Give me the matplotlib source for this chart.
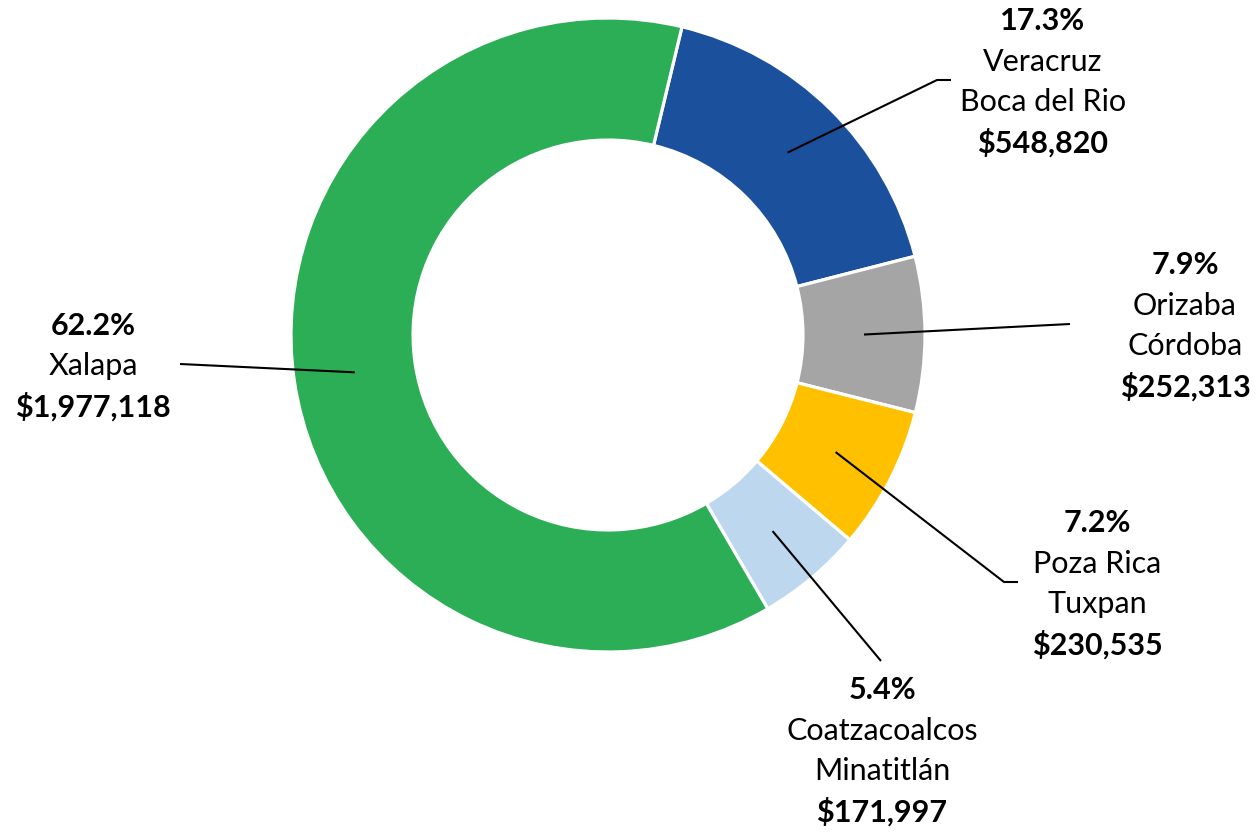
import matplotlib.pyplot as plt
import numpy as np

# ----------------------------
# Data
# ----------------------------
regions = ["Veracruz\nBoca del Rio", "Orizaba\nCórdoba", "Poza Rica\nTuxpan",
           "Coatzacoalcos\nMinatitlán", "Xalapa"]
amounts = [548820, 252313, 230535, 171997, 1977118]
colors = ["#1B519C", "#A5A5A5", "#FFC000", "#BDD7EE", "#2BAE56"]

# label block centre (pixels, y from top) and elbow of the leader line
label_pos = [(1043, 82), (1185, 326), (1097, 584), (882, 751), (93, 366)]
elbow_pos = [(937, 80), (1070, 324), (1004, 582), (881, 661), (180, 364)]
elbow_end = [(951, 80), None, (1018, 582), None, None]

plt.rcParams["font.family"] = ["Lato", "DejaVu Sans"]

W, H = 1257, 834
fig = plt.figure(figsize=(W / 100, H / 100), dpi=100)
ax = fig.add_axes([0, 0, 1, 1])

cx, cy, r_out = 608, H - 335, 317
ring = 0.385

wedges, _ = ax.pie(amounts, colors=colors, startangle=76.5, counterclock=False,
                   center=(cx, cy), radius=r_out, frame=True,
                   wedgeprops=dict(width=r_out * ring, edgecolor="white", linewidth=2.3))
ax.set_xlim(0, W)
ax.set_ylim(0, H)
ax.set_aspect("equal")
ax.axis("off")

total = sum(amounts)
r_mid = r_out * (1 - ring / 2)
for w, name, amt, lp, ep, ee in zip(wedges, regions, amounts, label_pos, elbow_pos, elbow_end):
    ang = np.deg2rad((w.theta1 + w.theta2) / 2)
    ax0, ay0 = cx + r_mid * np.cos(ang), cy + r_mid * np.sin(ang)
    xs = [ax0, ep[0]]
    ys = [ay0, H - ep[1]]
    if ee is not None:
        xs.append(ee[0])
        ys.append(H - ee[1])
    ax.plot(xs, ys, color="black", lw=1.5, solid_capstyle="butt")

    lines = [(f"{amt / total * 100:.1f}%", "bold")]
    lines += [(s, "normal") for s in name.split("\n")]
    lines += [(f"${amt:,}", "bold")]
    n = len(lines)
    step = 40.5
    for i, (txt, wt) in enumerate(lines):
        y = lp[1] + (i - (n - 1) / 2) * step
        ax.text(lp[0], H - y, txt, ha="center", va="center", fontsize=22,
                fontweight=wt, color="black")

fig.savefig("out.png", dpi=100)
